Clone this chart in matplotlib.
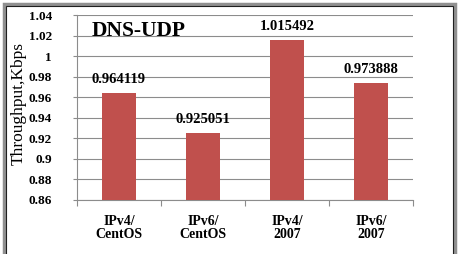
import matplotlib
matplotlib.use("Agg")
import matplotlib.pyplot as plt
from matplotlib.patches import Rectangle

categories = ["IPv4/\nCentOS", "IPv6/\nCentOS", "IPv4/\n2007", "IPv6/\n2007"]
values = [0.964119, 0.925051, 1.015492, 0.973888]
value_labels = ["0.964119", "0.925051", "1.015492", "0.973888"]
yticks = [0.86, 0.88, 0.9, 0.92, 0.94, 0.96, 0.98, 1.0, 1.02, 1.04]
ytick_labels = ["0.86", "0.88", "0.9", "0.92", "0.94", "0.96", "0.98", "1", "1.02", "1.04"]
title = "DNS-UDP"
ylabel = "Throughput,Kbps"

W, H = 463, 254
fig = plt.figure(figsize=(W / 100, H / 100), dpi=100)
fig.patch.set_facecolor("white")
serif = ["Liberation Serif", "DejaVu Serif"]

ax = fig.add_axes([77 / W, 1 - 200 / H, (413 - 77) / W, (200 - 15) / H])
x = list(range(len(categories)))
ax.bar(x, values, width=0.4, color="#C0504D", zorder=3)
ax.set_xlim(-0.5, len(categories) - 0.5)
ax.set_ylim(0.86, 1.04)
ax.set_yticks(yticks)
ax.set_yticklabels(ytick_labels, fontfamily=serif, fontweight="bold", fontsize=9.5)
ax.set_xticks(x)
ax.set_xticklabels(categories, fontfamily=serif, fontweight="bold", fontsize=10,
                   linespacing=0.95)
ax.tick_params(axis="x", length=0, pad=11)
ax.tick_params(axis="y", length=3, width=0.8, color="#8c8c8c", pad=15)
# category boundary ticks
ax.set_xticks([-0.5, 0.5, 1.5, 2.5, 3.5], minor=True)
ax.tick_params(axis="x", which="minor", length=4, width=0.8, color="#8c8c8c")
ax.grid(axis="y", color="#8c8c8c", linewidth=0.8, zorder=0)
for s in ["top", "right"]:
    ax.spines[s].set_visible(False)
ax.spines["left"].set_color("#8c8c8c")
ax.spines["bottom"].set_color("#8c8c8c")
ax.spines["left"].set_linewidth(0.8)
ax.spines["bottom"].set_linewidth(0.8)

for xi, v, lab in zip(x, values, value_labels):
    ax.annotate(lab, (xi, v), xytext=(0, 5), textcoords="offset points",
                ha="center", va="bottom", fontfamily=serif, fontweight="bold",
                fontsize=10.5)

ax.text(0.045, 0.915, title, transform=ax.transAxes, ha="left", va="center",
        fontfamily=serif, fontweight="bold", fontsize=15.5)

fig.text(19 / W, 1 - 104 / H, ylabel, rotation=90, ha="center", va="center",
         fontfamily=serif, fontsize=12.5)

# outer frame
fig.patches.append(Rectangle((3.5 / W, -0.2), (455 - 3.5) / W, 1.2 - 3.5 / H,
                             transform=fig.transFigure, fill=False,
                             edgecolor="#909090", linewidth=2.5))
fig.patches.append(Rectangle((5.5 / W, -0.2), (453 - 5.5) / W, 1.2 - 5.5 / H,
                             transform=fig.transFigure, fill=False,
                             edgecolor="#202020", linewidth=0.8))

fig.savefig("out.png", dpi=100)
